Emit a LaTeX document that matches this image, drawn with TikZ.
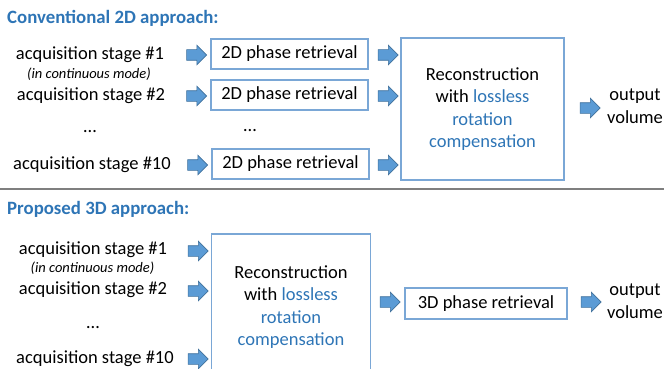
\documentclass[tikz,border=0pt]{standalone}
\usepackage{fontspec}
\setmainfont{Carlito}
\usetikzlibrary{shapes.arrows}
\definecolor{ttlblue}{HTML}{2E75B6}
\definecolor{boxblue}{HTML}{7AA7D6}
\definecolor{arrfill}{HTML}{5B9BD5}
\definecolor{arrdraw}{HTML}{41719C}
\definecolor{sepgray}{HTML}{7F7F7F}
\begin{document}
\begin{tikzpicture}[x=1pt,y=-1pt,
  every node/.style={font=\fontsize{18.5}{22.6}\selectfont, inner sep=0pt},
  ttl/.style={font=\fontsize{18.8}{22.6}\selectfont\bfseries, text=ttlblue, anchor=west},
  lbl/.style={},
  note/.style={font=\fontsize{14.5}{17}\selectfont\itshape},
  pbox/.style={draw=boxblue, line width=1.2pt, minimum width=157pt, minimum height=30pt},
  rbox/.style={draw=boxblue, line width=1.2pt, minimum width=163pt, align=center},
  barrow/.style={single arrow, fill=arrfill, draw=arrdraw, line width=0.6pt,
    minimum height=20pt, minimum width=19pt, inner sep=5pt, single arrow head extend=4.5pt,
    single arrow head indent=0pt},
  outlbl/.style={align=center}
]
\useasboundingbox (0,0) rectangle (664,369);

% ---------- Conventional 2D approach ----------
\node[ttl] (t1) at (7,18) {Conventional 2D approach:};

\node[lbl] (a1) at (90,55) {acquisition stage \#1};
\node[note] (m1) at (89,74) {(in continuous mode)};
\node[lbl] (a2) at (91,96) {acquisition stage \#2};
\node[lbl] (d1) at (90,132) {\dots};
\node[lbl] (a10) at (92,165) {acquisition stage \#10};

\node[barrow] (ar1) at (194,55) {};
\node[barrow] (ar2) at (194,96) {};
\node[barrow] (ar10) at (195,165) {};

\node[pbox] (p1) at (289.5,54) {2D phase retrieval};
\node[pbox] (p2) at (289.5,95) {2D phase retrieval};
\node[lbl] (d2) at (250,131) {\dots};
\node[pbox] (p10) at (290.5,164) {2D phase retrieval};

\node[barrow] (br1) at (385.5,55) {};
\node[barrow] (br2) at (385.5,96) {};
\node[barrow] (br10) at (385.5,165) {};

\node[rbox, minimum height=142pt] (r1) at (482.5,109)
  {Reconstruction\\with \textcolor{ttlblue}{lossless}\\\textcolor{ttlblue}{rotation}\\\textcolor{ttlblue}{compensation}};

\node[barrow] (cr1) at (587.5,108) {};
\node[outlbl] (o1) at (635,106) {output\\volume};

% separator
\coordinate (s1) at (0,189);
\coordinate (s2) at (664,189);
\draw[sepgray, line width=1.6pt] (s1) -- (s2);

% ---------- Proposed 3D approach ----------
\node[ttl] (t2) at (7,209) {Proposed 3D approach:};

\node[lbl] (b1) at (93,250) {acquisition stage \#1};
\node[note] (m2) at (92.5,268) {(in continuous mode)};
\node[lbl] (b2) at (93,290) {acquisition stage \#2};
\node[lbl] (d3) at (93,328) {\dots};
\node[lbl] (b10) at (95,359) {acquisition stage \#10};

\node[barrow] (er1) at (195.5,251) {};
\node[barrow] (er2) at (195.5,291) {};
\node[barrow] (er10) at (195.5,359) {};

\node[rbox, minimum width=159pt, minimum height=146pt] (r2) at (291,307)
  {Reconstruction\\with \textcolor{ttlblue}{lossless}\\\textcolor{ttlblue}{rotation}\\\textcolor{ttlblue}{compensation}};

\node[barrow] (fr1) at (387.5,302) {};
\node[pbox, minimum width=162pt, minimum height=31pt] (q1) at (486,303.5) {3D phase retrieval};
\node[barrow] (fr2) at (588.5,302) {};
\node[outlbl] (o2) at (635,301) {output\\volume};
\end{tikzpicture}
\end{document}
